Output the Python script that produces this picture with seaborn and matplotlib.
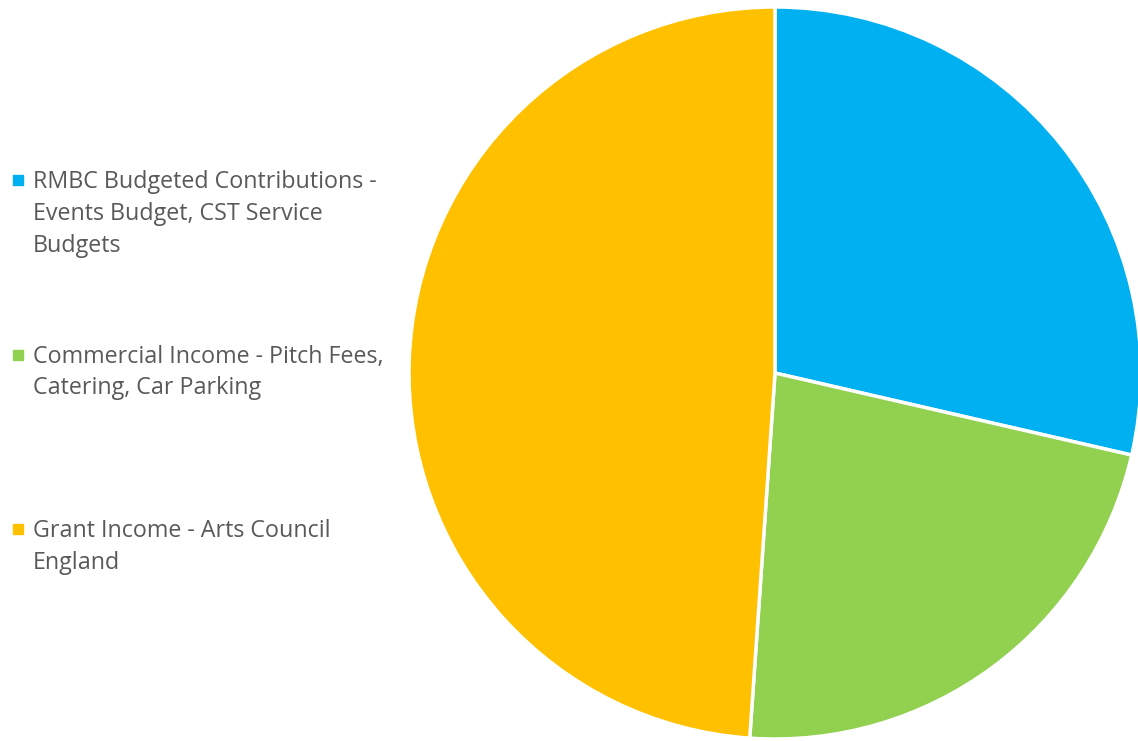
import matplotlib
matplotlib.use("Agg")
import matplotlib.pyplot as plt
import seaborn as sns
from matplotlib.lines import Line2D

sns.set_theme(style="white")
plt.rcParams['font.family'] = ['Open Sans', 'DejaVu Sans']

categories = [
    "RMBC Budgeted Contributions -\nEvents Budget, CST Service\nBudgets",
    "Commercial Income - Pitch Fees,\nCatering, Car Parking",
    "Grant Income - Arts Council\nEngland",
]
values = [28.6, 22.5, 48.9]
colors = ["#00B0F0", "#92D050", "#FFC000"]

W, H = 1138, 741
fig = plt.figure(figsize=(W / 100, H / 100), dpi=100)
cx, cy, r = 775, 373, 366
ax = fig.add_axes([(cx - r) / W, (H - cy - r) / H, 2 * r / W, 2 * r / H])
ax.pie(values, colors=colors, startangle=90, counterclock=False,
       wedgeprops=dict(edgecolor="white", linewidth=2.5), radius=1)
ax.set_xlim(-1, 1)
ax.set_ylim(-1, 1)
ax.set_aspect("equal")
ax.axis("off")

# legend drawn manually (square marker beside the first line of each label)
base0, step, line_h = 188, 174.5, 32
for i, (lab, c) in enumerate(zip(categories, colors)):
    yb = base0 + i * step
    fig.add_artist(Line2D([18 / W], [(H - yb + 8) / H], transform=fig.transFigure,
                          marker="s", linestyle="none", markersize=6.5,
                          markerfacecolor=c, markeredgecolor=c))
    for j, line in enumerate(lab.split("\n")):
        fig.text(33 / W, (H - yb - j * line_h) / H, line, ha="left",
                 va="baseline", fontsize=16.75, color="#595959")

fig.savefig("out.png", dpi=100)
